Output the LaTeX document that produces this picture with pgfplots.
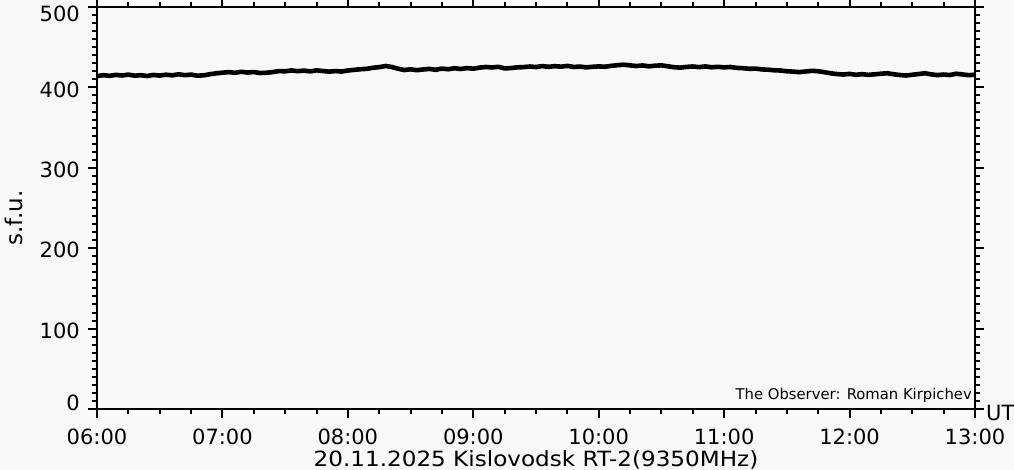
\documentclass[border=0pt]{standalone}
\usepackage{pgfplots}
\pgfplotsset{compat=1.18}
\usepackage{fontspec}
\setmainfont{DejaVu Sans}
\definecolor{bg}{HTML}{F8F8F8}
\begin{document}
\begin{tikzpicture}[x=1pt,y=1pt]
\path[use as bounding box, fill=bg] (0,0) rectangle (1014,470);
\begin{axis}[
  at={(97pt,61pt)}, anchor=south west,
  scale only axis, width=878pt, height=402pt,
  xmin=6, xmax=13, ymin=0, ymax=500,
  axis line style={line width=2pt, black},
  axis background/.style={fill=bg},
  tick align=outside,
  xtick pos=both, ytick pos=both,
  xticklabel pos=left, yticklabel pos=left,
  major tick length=9pt, minor tick length=5pt,
  every tick/.append style={line width=2pt, black},
  every major tick/.append style={line width=2pt, black},
  every minor tick/.append style={line width=2pt, black},
  xtick style={line width=2pt, black},
  ytick style={line width=2pt, black},
  xtick={6,7,8,9,10,11,12,13},
  xticklabels={06:00,07:00,08:00,09:00,10:00,11:00,12:00,13:00},
  minor x tick num=3,
  ytick={0,100,200,300,400,500},
  yticklabels={,100,200,300,400,},
  minor y tick num=9,
  /pgf/number format/assume math mode=true,
  tick label style={font=\fontsize{21}{24}\selectfont, inner sep=0pt},
  xticklabel style={yshift=-11pt},
  yticklabel style={xshift=-8pt, yshift=-2pt},
  clip=false,
]
\addplot[black, line width=4.6pt, line join=round] coordinates {
(6.00,414.0)(6.05,415.2)(6.10,414.3)(6.15,415.6)(6.20,414.8)(6.25,415.9)(6.30,414.6)(6.35,415.1)(6.40,414.2)(6.45,415.5)
(6.50,414.7)(6.55,415.8)(6.60,415.0)(6.65,416.3)(6.70,415.2)(6.75,415.9)(6.80,414.6)(6.85,415.0)(6.90,416.4)(6.95,417.5)
(7.00,418.3)(7.05,419.0)(7.10,418.2)(7.15,419.4)(7.20,418.5)(7.25,419.1)(7.30,417.9)(7.35,418.2)(7.40,419.0)(7.45,420.3)
(7.50,420.0)(7.55,421.1)(7.60,420.2)(7.65,420.9)(7.70,419.9)(7.75,421.2)(7.80,420.4)(7.85,419.6)(7.90,420.3)(7.95,419.7)
(8.00,421.0)(8.05,421.8)(8.10,422.6)(8.15,423.1)(8.20,424.4)(8.25,425.2)(8.30,426.6)(8.35,425.4)(8.40,423.2)(8.45,421.6)
(8.50,422.5)(8.55,421.4)(8.60,422.3)(8.65,423.0)(8.70,421.9)(8.75,423.4)(8.80,422.6)(8.85,423.8)(8.90,422.9)(8.95,424.0)
(9.00,423.3)(9.05,424.6)(9.10,425.4)(9.15,424.8)(9.20,425.6)(9.25,423.6)(9.30,424.0)(9.35,424.9)(9.40,425.2)(9.45,426.0)
(9.50,425.3)(9.55,426.5)(9.60,425.6)(9.65,426.4)(9.70,425.8)(9.75,426.7)(9.80,425.4)(9.85,425.9)(9.90,424.9)(9.95,425.6)
(10.00,426.1)(10.05,425.7)(10.10,426.8)(10.15,427.6)(10.20,428.2)(10.25,427.4)(10.30,426.6)(10.35,427.3)(10.40,426.2)(10.45,427.0)
(10.50,427.4)(10.55,426.3)(10.60,425.1)(10.65,424.6)(10.70,425.5)(10.75,426.0)(10.80,425.2)(10.85,426.1)(10.90,425.0)(10.95,425.6)
(11.00,424.9)(11.05,425.4)(11.10,424.3)(11.15,423.9)(11.20,423.1)(11.25,423.4)(11.30,422.4)(11.35,422.0)(11.40,421.3)(11.45,421.0)
(11.50,420.1)(11.55,419.6)(11.60,419.0)(11.65,419.8)(11.70,420.6)(11.75,420.1)(11.80,418.9)(11.85,417.5)(11.90,416.6)(11.95,416.0)
(12.00,416.8)(12.05,415.7)(12.10,416.4)(12.15,415.6)(12.20,416.3)(12.25,417.0)(12.30,417.6)(12.35,416.4)(12.40,415.4)(12.45,414.8)
(12.50,415.7)(12.55,416.6)(12.60,417.6)(12.65,416.2)(12.70,415.3)(12.75,416.0)(12.80,415.4)(12.85,417.0)(12.90,416.1)(12.95,415.2)
(13.00,415.8)
};
\node[anchor=east, inner sep=0pt, font=\fontsize{21}{24}\selectfont] at ([xshift=-17pt,yshift=6pt]rel axis cs:0,0) {0};
\node[anchor=east, inner sep=0pt, font=\fontsize{21}{24}\selectfont] at ([xshift=-17pt,yshift=-7pt]rel axis cs:0,1) {500};
\node[anchor=west, inner sep=0pt, font=\fontsize{21}{24}\selectfont] at ([xshift=11pt,yshift=-4pt]rel axis cs:1,0) {UT};
\node[anchor=center, inner sep=0pt, font=\fontsize{21}{24}\selectfont] at ([yshift=-51pt]rel axis cs:0.5,0) {\scalebox{1.1}[1]{20.11.2025 Kislovodsk RT-2(9350MHz)}};
\node[anchor=center, inner sep=0pt, rotate=90, font=\fontsize{23}{26}\selectfont] at ([xshift=-83pt]rel axis cs:0,0.475) {s.f.u.};
\node[anchor=base east, inner sep=0pt, font=\fontsize{14.8}{17}\selectfont] at ([xshift=-3pt,yshift=9pt]rel axis cs:1,0) {The Observer: Roman Kirpichev};
\end{axis}
\end{tikzpicture}
\end{document}
